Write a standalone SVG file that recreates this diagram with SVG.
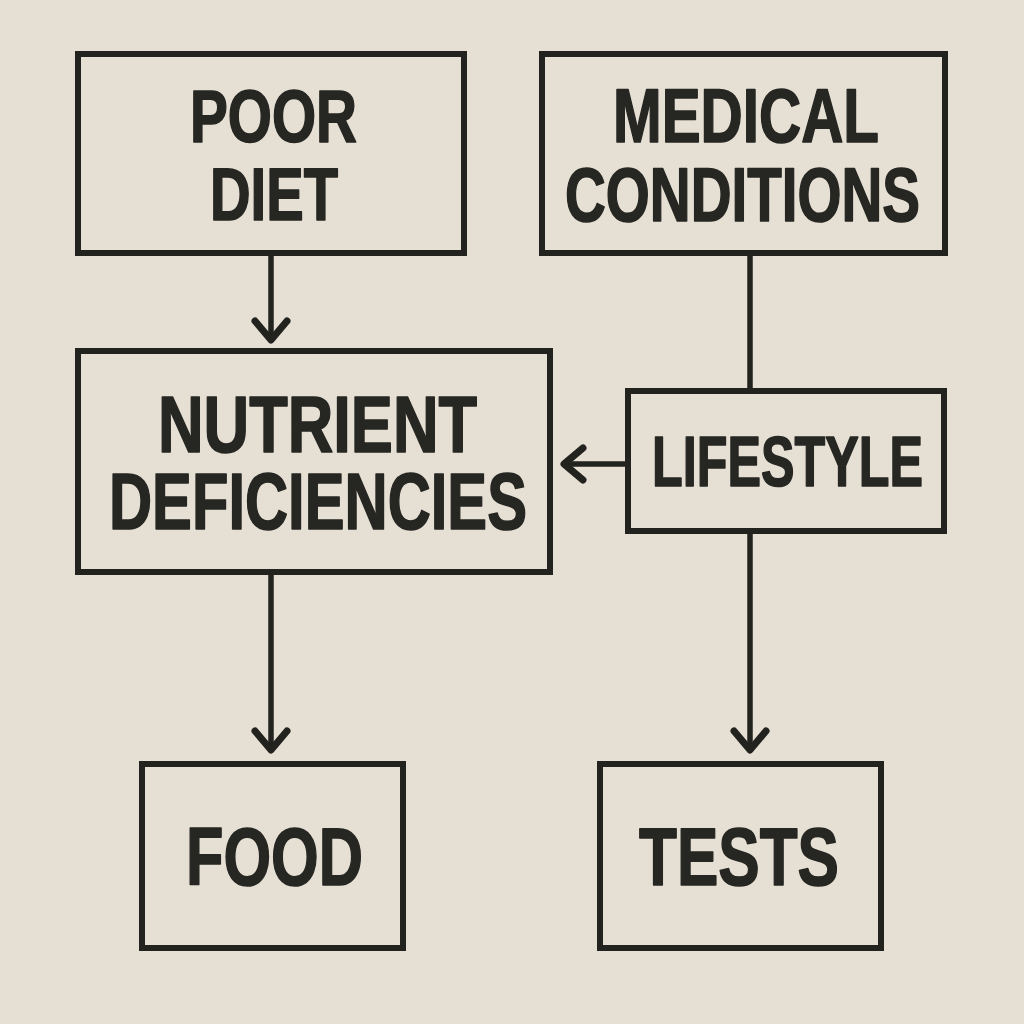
<svg xmlns="http://www.w3.org/2000/svg" width="1024" height="1024" viewBox="0 0 1024 1024">
  <style>
    .box { fill: none; stroke: #22221f; stroke-width: 6; }
    .lbl { font-family: "Liberation Sans", Arial, sans-serif; font-weight: bold; fill: #262622; stroke: #262622; stroke-width: 1.6; stroke-linejoin: round; text-anchor: start; }
    .conn { fill: none; stroke: #22221f; stroke-width: 5.5; }
    .arr { fill: none; stroke: #22221f; stroke-width: 7; stroke-linecap: round; stroke-linejoin: round; }
  </style>
  <defs>
    <marker id="chev" markerUnits="userSpaceOnUse" viewBox="-28 -22 34 44" refX="0" refY="0" markerWidth="34" markerHeight="44" orient="auto">
      <path class="arr" d="M -19,-16 L 0,0 L -19,16"/>
    </marker>
  </defs>
  <rect width="1024" height="1024" fill="#e6dfd4"/>

  <g id="connectors">
    <path class="conn" d="M 271,253 L 271,340" marker-end="url(#chev)"/>
    <path class="conn" d="M 750,253 L 750,390"/>
    <path class="conn" d="M 627,464 L 564,464" marker-end="url(#chev)"/>
    <path class="conn" d="M 271,573 L 271,750" marker-end="url(#chev)"/>
    <path class="conn" d="M 750,532 L 750,750" marker-end="url(#chev)"/>
  </g>

  <g id="poor-diet">
    <rect class="box" x="78" y="54" width="386" height="199"/>
    <text class="lbl" x="190" y="142" font-size="74" textLength="167" lengthAdjust="spacingAndGlyphs">POOR</text>
    <text class="lbl" x="210" y="220" font-size="74" textLength="128" lengthAdjust="spacingAndGlyphs">DIET</text>
  </g>

  <g id="medical-conditions">
    <rect class="box" x="542" y="54" width="403" height="199"/>
    <text class="lbl" x="613" y="142" font-size="76" textLength="266" lengthAdjust="spacingAndGlyphs">MEDICAL</text>
    <text class="lbl" x="565" y="221" font-size="76" textLength="355" lengthAdjust="spacingAndGlyphs">CONDITIONS</text>
  </g>

  <g id="nutrient-deficiencies">
    <rect class="box" x="78" y="351" width="472" height="221"/>
    <text class="lbl" x="158" y="452" font-size="80" textLength="319" lengthAdjust="spacingAndGlyphs">NUTRIENT</text>
    <text class="lbl" x="109" y="529" font-size="80" textLength="418" lengthAdjust="spacingAndGlyphs">DEFICIENCIES</text>
  </g>

  <g id="lifestyle">
    <rect class="box" x="628" y="391" width="316" height="140"/>
    <text class="lbl" x="652" y="486" font-size="71" textLength="271" lengthAdjust="spacingAndGlyphs">LIFESTYLE</text>
  </g>

  <g id="food">
    <rect class="box" x="142" y="764" width="261" height="184"/>
    <text class="lbl" x="186" y="885" font-size="82" textLength="177" lengthAdjust="spacingAndGlyphs">FOOD</text>
  </g>

  <g id="tests">
    <rect class="box" x="600" y="764" width="281" height="184"/>
    <text class="lbl" x="639" y="885" font-size="82" textLength="200" lengthAdjust="spacingAndGlyphs">TESTS</text>
  </g>
</svg>
